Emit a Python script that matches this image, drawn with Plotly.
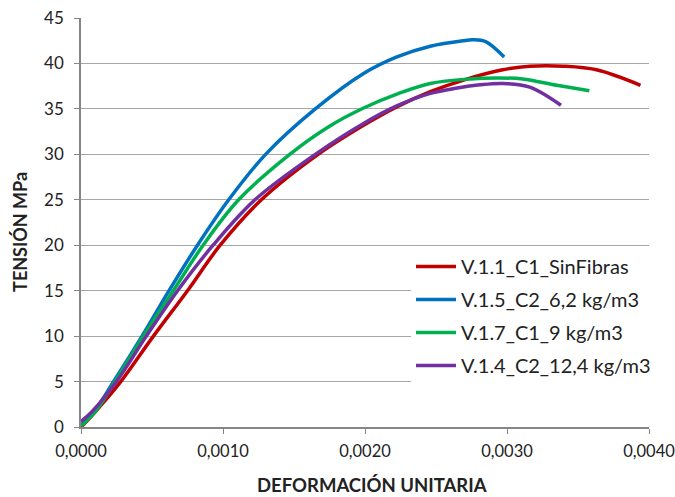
import plotly.graph_objects as go

# Data (strain, stress MPa)
red_x = [0, 0.00005, 0.00013, 0.00028, 0.00051, 0.00075, 0.00098, 0.00127, 0.00167, 0.00199,
         0.00222, 0.00246, 0.00270, 0.00297, 0.00316, 0.00340, 0.00363, 0.00394]
red_y = [0, 0.8, 2.2, 5, 10, 15, 20, 25, 30, 33.2, 35.2, 36.9, 38.2, 39.3, 39.7, 39.7, 39.3, 37.6]

blue_x = [0, 0.00009, 0.00023, 0.00043, 0.00062, 0.00082, 0.00104, 0.00130, 0.00165, 0.00199,
          0.00222, 0.00246, 0.00269, 0.00276, 0.00285, 0.00298]
blue_y = [0.2, 1.65, 5, 10, 15, 20, 25, 30, 35, 38.9, 40.7, 41.9, 42.5, 42.6, 42.4, 40.7]

green_x = [0, 0.00010, 0.00024, 0.00044, 0.00065, 0.00086, 0.00111, 0.00147, 0.00175, 0.00199,
           0.00222, 0.00246, 0.00274, 0.00293, 0.00311, 0.00335, 0.00358]
green_y = [0.1, 1.7, 5, 10, 15, 20, 25, 30, 33.1, 35.1, 36.6, 37.8, 38.3, 38.4, 38.3, 37.6, 37.0]

purple_x = [0, 0.000075, 0.00025, 0.00046, 0.00068, 0.00093, 0.001225, 0.00165, 0.00199, 0.00222,
            0.00246, 0.00265, 0.00281, 0.00297, 0.00316, 0.00338]
purple_y = [0.6, 1.65, 5, 10, 15, 20, 25, 30, 33.4, 35.3, 36.7, 37.3, 37.65, 37.8, 37.4, 35.4]

names = ["V.1.1_C1_SinFibras", "V.1.5_C2_6,2 kg/m3", "V.1.7_C1_9 kg/m3", "V.1.4_C2_12,4 kg/m3"]
colors = ["#C00000", "#0070C0", "#00B050", "#7030A0"]

x_tickvals = [0, 0.001, 0.002, 0.003, 0.004]
x_ticktext = ["0,0000", "0,0010", "0,0020", "0,0030", "0,0040"]
y_tickvals = [0, 5, 10, 15, 20, 25, 30, 35, 40, 45]

x_title = "DEFORMACIÓN UNITARIA"
y_title = "TENSIÓN MPa"

series = [(red_x, red_y), (blue_x, blue_y), (green_x, green_y), (purple_x, purple_y)]

fig = go.Figure()
for i, ((xs, ys), nm, c) in enumerate(zip(series, names, colors)):
    fig.add_trace(go.Scatter(
        x=xs, y=ys, mode="lines", name=nm, legendgroup=str(i),
        line=dict(color=c, width=3.5, shape="spline", smoothing=1.0),
    ))

font_family = "Lato, Liberation Sans, sans-serif"

fig.update_layout(
    width=675, height=497,
    margin=dict(l=81, r=26, t=18, b=70),
    paper_bgcolor="white", plot_bgcolor="white",
    font=dict(family=font_family, size=17, color="#222222"),
    showlegend=True,
    legend=dict(
        x=0.581, y=0.44, xanchor="left", yanchor="top",
        bgcolor="white", borderwidth=0,
        font=dict(family=font_family, size=20, color="#222222"),
        traceorder="grouped", tracegroupgap=4, itemwidth=40,
    ),
    xaxis=dict(
        range=[0, 0.004], tickvals=x_tickvals, ticktext=x_ticktext,
        automargin=False, ticklabeloverflow="allow",
        showgrid=False, zeroline=False,
        showline=True, linecolor="#868686", linewidth=1.5,
        ticks="outside", ticklen=5, tickcolor="#868686",
        ticklabelstandoff=3,
        tickfont=dict(size=16.5),
    ),
    yaxis=dict(
        range=[0, 45], tickvals=y_tickvals,
        automargin=False,
        showgrid=True, gridcolor="#A6A6A6", gridwidth=1,
        zeroline=False,
        showline=True, linecolor="#868686", linewidth=1.5,
        ticks="outside", ticklen=5, tickcolor="#868686",
        ticklabelstandoff=7,
        tickfont=dict(size=17),
    ),
    annotations=[
        dict(text="<b>" + x_title + "</b>", xref="paper", yref="paper",
             x=0.512, y=-0.142, xanchor="center", yanchor="middle",
             showarrow=False, font=dict(family=font_family, size=18.5, color="#222222")),
        dict(text="<b>" + y_title + "</b>", xref="paper", yref="paper",
             x=-0.1074, y=0.477, xanchor="center", yanchor="middle", textangle=-90,
             showarrow=False, font=dict(family=font_family, size=18, color="#222222")),
    ],
)

fig.write_html("out.html")
